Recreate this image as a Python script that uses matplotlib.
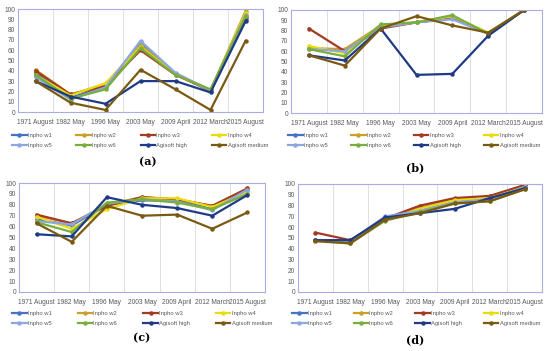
import numpy as np
import matplotlib
matplotlib.use('Agg')
import matplotlib.pyplot as plt

dates = ['1971 August', '1982 May', '1996 May', '2003 May', '2009 April', '2012 March', '2015 August']
names = ['Inpho w1', 'Inpho w2', 'Inpho w3', 'Inpho w4', 'Inpho w5', 'Inpho w6', 'Agisoft high', 'Agisoft medium']
colors = ['#4472C4', '#C9A02A', '#A33A22', '#E8DC10', '#8EA6DE', '#78AE3E', '#1F3A86', '#7A5A12']

# panel (a)
a_vals = [
    [38, 14, 24, 68, 37, 20, 90],
    [41, 17, 27, 65, 37, 21, 98],
    [40, 17, 25, 60, 36, 21, 92],
    [36, 16, 28, 63, 37, 21, 96],
    [34, 12, 24, 69, 38, 21, 94],
    [36, 13, 22, 62, 36, 22, 93],
    [30, 15, 8, 30, 30, 19, 88],
    [30, 9, 2, 41, 22, 2, 69],
]
# panel (b)
b_vals = [
    [63, 60, 83, 88, 92, 77, 100],
    [63, 62, 85, 88, 93, 78, 100],
    [82, 60, 82, 88, 92, 77, 100],
    [65, 58, 85, 88, 94, 78, 100],
    [62, 60, 83, 88, 91, 77, 100],
    [62, 55, 86, 88, 95, 77, 100],
    [56, 51, 82, 37, 38, 75, 100],
    [56, 46, 82, 94, 85, 78, 100],
]
# panel (c)
c_vals = [
    [67, 61, 80, 84, 84, 76, 93],
    [70, 63, 80, 87, 85, 79, 95],
    [71, 63, 79, 87, 85, 79, 95],
    [69, 58, 76, 86, 86, 78, 92],
    [65, 62, 81, 85, 83, 75, 94],
    [64, 55, 82, 85, 82, 76, 90],
    [53, 51, 87, 80, 77, 70, 89],
    [63, 46, 79, 70, 71, 58, 73],
]
# panel (d)
d_vals = [
    [48, 47, 68, 76, 84, 87, 97],
    [48, 46, 68, 78, 86, 88, 99],
    [55, 48, 68, 80, 87, 89, 99],
    [48, 46, 67, 77, 85, 87, 97],
    [48, 47, 70, 75, 83, 86, 97],
    [48, 45, 66, 74, 82, 84, 95],
    [48, 48, 69, 73, 77, 87, 96],
    [47, 45, 67, 73, 82, 84, 95],
]

W, H = 550, 351
plt.rcParams['font.family'] = ['Liberation Sans', 'DejaVu Sans']
fig = plt.figure(figsize=(W/100, H/100), dpi=100)
fig.patch.set_facecolor('white')

def px(x0, y0, x1, y1):
    return [x0/W, 1 - y1/H, (x1 - x0)/W, (y1 - y0)/H]

# values, axes box, legend box, label, label pos
panels = [
    (a_vals, px(18, 9, 263, 112), px(12, 133, 268, 157), '(a)', (148, 162)),
    (b_vals, px(291, 10, 542, 113), px(288, 133, 540, 158), '(b)', (415, 168)),
    (c_vals, px(19, 183, 265, 292), px(12, 311, 272, 336), '(c)', (142, 338)),
    (d_vals, px(298, 184, 542, 292), px(292, 311, 540, 337), '(d)', (415, 340)),
]

order = [0, 4, 1, 5, 2, 6, 3, 7]
x = np.arange(len(dates))
for vals, rect, lrect, lab, lpos in panels:
    ax = fig.add_axes(rect)
    lines = []
    for k in range(len(names)):
        ln, = ax.plot(x, vals[k], color=colors[k], lw=1.6, marker='o', ms=2.2, label=names[k])
        lines.append(ln)
    ax.set_xlim(-0.5, 6.5)
    ax.set_ylim(0, 100)
    ax.set_yticks(range(0, 101, 10))
    ax.set_xticks(x)
    ax.set_xticklabels(dates)
    ax.set_xticks(np.arange(-0.5, 7, 1), minor=True)
    ax.grid(True, which='minor', axis='x', color='#D9D9D9', lw=0.6)
    ax.tick_params(which='both', length=0)
    ax.tick_params(axis='x', labelsize=4.8, colors='#595959', pad=5)
    ax.tick_params(axis='y', labelsize=4.8, colors='#595959', pad=2)
    for s in ax.spines.values():
        s.set_color('#A6AEE3')
        s.set_linewidth(0.8)
    fig.legend([lines[i] for i in order], [names[i] for i in order],
               loc='upper left', bbox_to_anchor=lrect, bbox_transform=fig.transFigure,
               mode='expand', ncol=4, fontsize=4.2, frameon=False, handlelength=2.5,
               handletextpad=0.2, labelspacing=0.9, borderaxespad=0, borderpad=0,
               labelcolor='#595959')
    fig.text(lpos[0]/W, 1 - lpos[1]/H, lab, ha='center', va='center', fontsize=8,
             fontweight='bold', family='DejaVu Serif')

fig.savefig('out.png', dpi=100, facecolor='white')
